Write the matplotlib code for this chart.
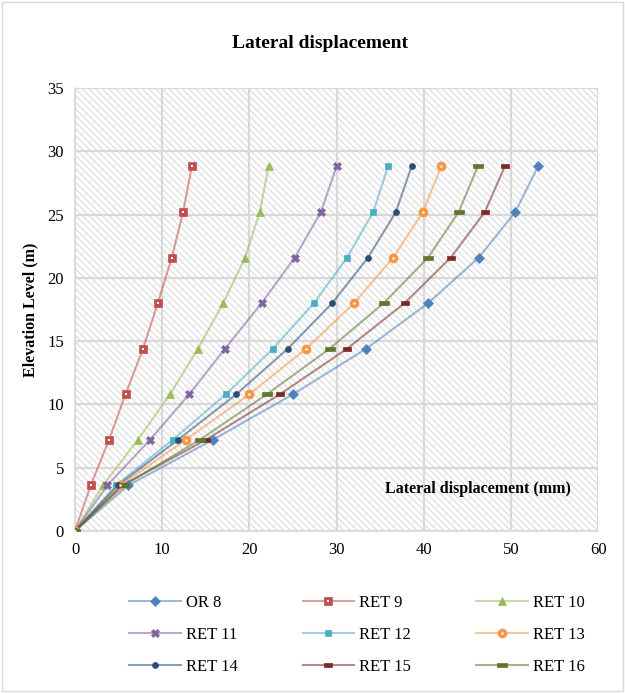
import matplotlib
matplotlib.use("Agg")
import matplotlib.pyplot as plt
from matplotlib.patches import Rectangle
from matplotlib.lines import Line2D
import numpy as np

plt.rcParams['font.family'] = ['Liberation Serif', 'DejaVu Serif']
plt.rcParams['hatch.color'] = '#dcdcdc'
plt.rcParams['hatch.linewidth'] = 0.85

elevation = [0, 3.6, 7.2, 10.8, 14.4, 18, 21.6, 25.2, 28.8]
series_names = ["OR 8", "RET 9", "RET 10", "RET 11", "RET 12", "RET 13", "RET 14", "RET 15", "RET 16"]
or8 = [0, 6.1, 15.8, 25.0, 33.4, 40.5, 46.3, 50.5, 53.1]
ret9 = [0, 1.8, 3.9, 5.8, 7.8, 9.5, 11.1, 12.4, 13.4]
ret10 = [0, 3.2, 7.2, 10.9, 14.1, 17.0, 19.5, 21.2, 22.2]
ret11 = [0, 3.7, 8.6, 13.1, 17.2, 21.4, 25.2, 28.2, 30.0]
ret12 = [0, 4.7, 11.2, 17.3, 22.7, 27.4, 31.2, 34.2, 35.9]
ret13 = [0, 5.2, 12.7, 20.0, 26.5, 32.0, 36.5, 39.9, 42.0]
ret14 = [0, 4.9, 11.8, 18.5, 24.4, 29.5, 33.6, 36.8, 38.6]
ret15 = [0, 5.4, 15.0, 23.5, 31.2, 37.8, 43.1, 47.0, 49.3]
ret16 = [0, 5.6, 14.3, 22.0, 29.2, 35.4, 40.5, 44.0, 46.2]
all_series = [or8, ret9, ret10, ret11, ret12, ret13, ret14, ret15, ret16]

colors = ['#4F81BD', '#C0504D', '#9BBB59', '#8064A2', '#4BACC6',
          '#F79646', '#2C4D75', '#772C2A', '#5F7530']
wide = [(-1, -0.45), (1, -0.45), (1, 0.45), (-1, 0.45), (-1, -0.45)]
markers = ['D', 's', '^', 'X', 's', 'o', 'o', wide, wide]
msizes = [5.5, 5.5, 6, 5.5, 5, 6.5, 4.3, 5.5, 7]
white_dot = [False, True, False, False, False, True, False, False, False]

fig = plt.figure(figsize=(6.25, 6.93), dpi=100)
ax = fig.add_axes([0.12, 0.2338, 0.837, 0.6392])

# hatched background
ax.add_patch(Rectangle((0, 0), 1, 1, transform=ax.transAxes, facecolor='white',
                       edgecolor='#dcdcdc', hatch='\\' * 5, linewidth=0, zorder=0))

handles = []
for name, xs, c, m, ms, wd in zip(series_names, all_series, colors, markers, msizes, white_dot):
    ax.plot(xs, elevation, '-', color=c, alpha=0.55, lw=1.5, zorder=2)
    ax.plot(xs, elevation, linestyle='none', marker=m, ms=ms, color=c, mec=c, mew=0.5, zorder=3)
    if wd:
        ax.plot(xs, elevation, linestyle='none', marker='s' if m == 's' else 'o',
                ms=1.8, color='white', mew=0, zorder=4)
    hl = Line2D([], [], color=c, alpha=0.55, lw=1.5)
    hm = Line2D([], [], linestyle='none', marker=m, ms=ms, color=c, mec=c, mew=0.5)
    if wd:
        hw = Line2D([], [], linestyle='none', marker='s' if m == 's' else 'o',
                    ms=1.8, color='white', mew=0)
        handles.append((hl, hm, hw))
    else:
        handles.append((hl, hm))

ax.set_xlim(0, 60)
ax.set_ylim(0, 35)
ax.set_xticks(range(0, 61, 10))
ax.set_yticks(range(0, 36, 5))
ax.grid(True, color='#d9d9d9', lw=1.6, zorder=1)
ax.set_axisbelow(True)
for s in ['top', 'right']:
    ax.spines[s].set_visible(False)
ax.spines['left'].set_color('#d9d9d9')
ax.spines['bottom'].set_color('#d9d9d9')
ax.spines['left'].set_linewidth(1.2)
ax.spines['bottom'].set_linewidth(1.2)
ax.tick_params(length=0, labelsize=12, pad=8)

ax.set_ylabel('Elevation Level (m)', fontsize=11.5, fontweight='bold', labelpad=6)
ax.text(0.77, 0.094, 'Lateral displacement (mm)', transform=ax.transAxes,
        ha='center', va='center', fontsize=11.5, fontweight='bold')
fig.text(0.512, 0.937, 'Lateral displacement', ha='center', va='center',
         fontsize=14, fontweight='bold')

order = [0, 3, 6, 1, 4, 7, 2, 5, 8]
leg = fig.legend([handles[i] for i in order], [series_names[i] for i in order],
                 ncol=3, loc='center', bbox_to_anchor=(0.571, 0.0837), frameon=False,
                 fontsize=12, handlelength=3.1, columnspacing=3.9, labelspacing=0.97,
                 handletextpad=0.3)

# outer border
fig.add_artist(Rectangle((0.003, 0.003), 0.994, 0.994, transform=fig.transFigure,
                         fill=False, edgecolor='#d9d9d9', lw=1))

fig.savefig('out.png', dpi=100)
